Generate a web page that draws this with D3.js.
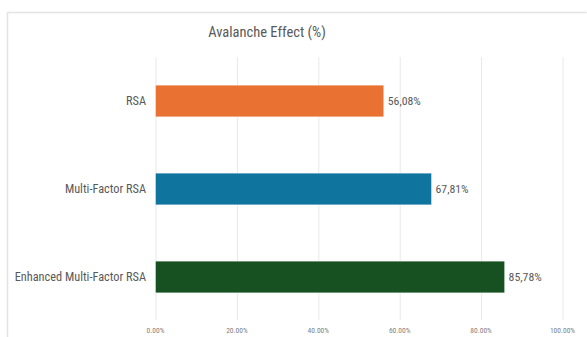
<!DOCTYPE html>
<html><head><meta charset="utf-8">
<script src="https://cdn.jsdelivr.net/npm/d3@7"></script>
<style>body{margin:0;background:#fff}svg{display:block}</style>
</head><body>
<svg id="c" width="587" height="337"></svg>
<script>
const categories = ["RSA", "Multi-Factor RSA", "Enhanced Multi-Factor RSA"];
const values = [56.08, 67.81, 85.78];
const colors = ["#E97132", "#0F759E", "#175121"];
const tickValues = [0, 20, 40, 60, 80, 100];
const title = "Avalanche Effect (%)";

const font = "'Liberation Sans Narrow', 'Roboto Condensed', Roboto, sans-serif";
const svg = d3.select("#c");
svg.append("path").attr("d", "M7.5,337 V12.5 H586.5").attr("fill","none").attr("stroke","#e3e3e3").attr("stroke-width",1.5);

const x = d3.scaleLinear().domain([0,100]).range([155.5, 562.5]);
const y = d3.scaleBand().domain(categories).range([57, 321]).paddingInner(0.64).paddingOuter(0.32);

svg.append("text").attr("x", 267).attr("y", 37).attr("text-anchor","middle")
  .attr("font-family", font).attr("font-size", 14.5).attr("fill","#595959").text(title);

const g = svg.append("g");
g.selectAll("line.grid").data(tickValues).join("line").attr("class","grid")
  .attr("x1", d=>x(d)+0.5).attr("x2", d=>x(d)+0.5).attr("y1", 57).attr("y2", 320)
  .attr("stroke","#e8e8e8").attr("stroke-width",1);

const fmt = d => d.toFixed(2) + "%";
g.selectAll("text.tick").data(tickValues).join("text").attr("class","tick")
  .attr("x", d=>x(d)).attr("y", 333).attr("text-anchor","middle")
  .attr("font-family", font).attr("font-size", 7.5).attr("fill","#808080").text(fmt);

g.selectAll("rect.bar").data(values).join("rect").attr("class","bar")
  .attr("x", x(0)).attr("y", (d,i)=>y(categories[i]))
  .attr("width", d=>x(d)-x(0)).attr("height", y.bandwidth())
  .attr("fill", (d,i)=>colors[i]).attr("stroke","#ffffff").attr("stroke-opacity",0.5).attr("stroke-width",0.8);

g.selectAll("text.cat").data(categories).join("text").attr("class","cat")
  .attr("x", 146).attr("y", d=>y(d)+y.bandwidth()/2).attr("dy","0.35em").attr("text-anchor","end")
  .attr("font-family", font).attr("font-size", 12.3).attr("fill","#595959").text(d=>d);

g.selectAll("text.val").data(values).join("text").attr("class","val")
  .attr("x", d=>x(d)+4).attr("y", (d,i)=>y(categories[i])+y.bandwidth()/2).attr("dy","0.35em")
  .attr("font-family", font).attr("font-size", 11.8).attr("fill","#595959")
  .text(d=>d.toFixed(2).replace(".", ",") + "%");
</script>
</body></html>
